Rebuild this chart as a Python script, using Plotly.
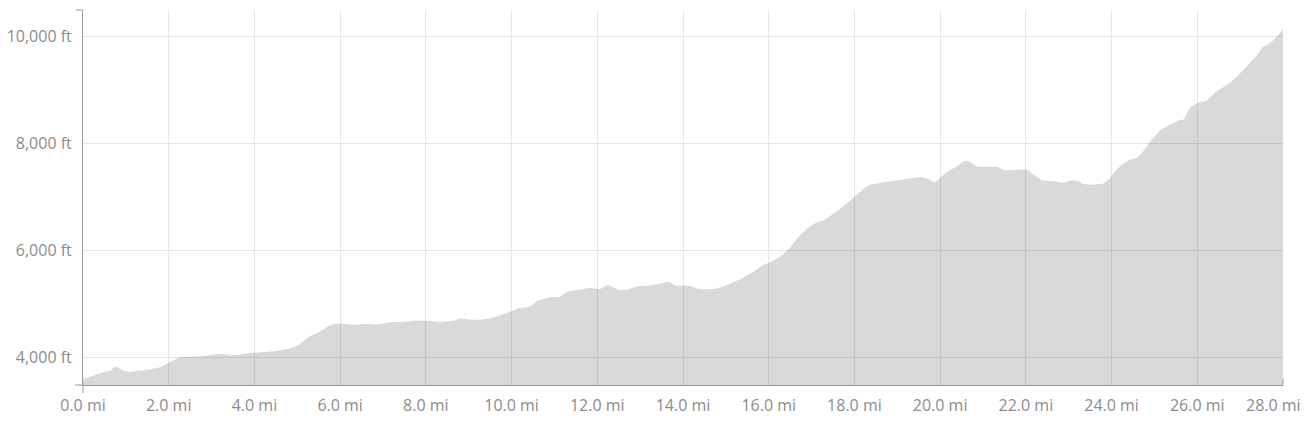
import plotly.graph_objects as go

# Distance along route (miles) and elevation (feet)
distance_mi = [
    0.0, 0.23, 0.39, 0.55, 0.66, 0.74, 0.82, 0.93, 1.09, 1.32, 1.60, 1.79, 1.98,
    2.26, 2.49, 2.72, 3.03, 3.27, 3.58, 3.81, 4.12, 4.51, 4.82, 5.06, 5.29, 5.53,
    5.76, 5.92, 6.15, 6.38, 6.62, 6.85, 7.16, 7.47, 7.74, 8.02, 8.33, 8.64, 8.83,
    9.03, 9.34, 9.57, 9.80, 10.04, 10.19, 10.43, 10.58, 10.74, 10.93, 11.09, 11.32,
    11.59, 11.83, 12.06, 12.25, 12.49, 12.68, 12.92, 13.23, 13.46, 13.66, 13.85,
    14.12, 14.39, 14.71, 14.94, 15.17, 15.41, 15.64, 15.84, 16.07, 16.30, 16.50,
    16.73, 16.92, 17.12, 17.27, 17.51, 17.74, 17.97, 18.21, 18.36, 18.60, 18.83,
    19.06, 19.22, 19.53, 19.69, 19.88, 20.04, 20.19, 20.39, 20.58, 20.70, 20.85,
    21.09, 21.32, 21.51, 21.79, 22.02, 22.18, 22.37, 22.64, 22.88, 23.07, 23.23,
    23.34, 23.58, 23.81, 23.97, 24.04, 24.24, 24.44, 24.59, 24.74, 24.94, 25.13,
    25.37, 25.56, 25.68, 25.83, 26.03, 26.22, 26.46, 26.73, 26.92, 27.16, 27.39,
    27.54, 27.66, 27.78, 27.97, 28.0,
]
elevation_ft = [
    3596, 3652, 3702, 3732, 3764, 3826, 3807, 3751, 3726, 3751, 3777, 3814, 3889,
    4001, 4007, 4013, 4050, 4063, 4039, 4076, 4095, 4119, 4166, 4245, 4387, 4481,
    4593, 4630, 4619, 4606, 4619, 4612, 4656, 4656, 4686, 4681, 4662, 4681, 4724,
    4700, 4705, 4737, 4806, 4873, 4918, 4948, 5042, 5087, 5124, 5117, 5229,
    5261, 5293, 5274, 5349, 5261, 5255, 5322, 5341, 5373, 5410, 5336,
    5341, 5274, 5274, 5322, 5397, 5491, 5592, 5710, 5790, 5897, 6052,
    6277, 6415, 6520, 6552, 6683, 6819, 6976, 7145, 7220, 7257, 7287,
    7306, 7332, 7369, 7338, 7268, 7381, 7474, 7568, 7669, 7650, 7568,
    7556, 7556, 7493, 7500, 7506, 7412, 7306, 7287, 7257, 7306, 7287,
    7238, 7225, 7244, 7351, 7431, 7600, 7693, 7725, 7848, 8067, 8236,
    8348, 8423, 8441, 8660, 8754, 8797, 8971, 9109, 9240, 9439, 9639,
    9802, 9845, 9925, 10094, 10130,
]

x_tick_vals = [0, 2, 4, 6, 8, 10, 12, 14, 16, 18, 20, 22, 24, 26, 28]
x_tick_text = [f"{v:.1f} mi" for v in x_tick_vals]
y_tick_vals = [4000, 6000, 8000, 10000]
y_tick_text = ["4,000 ft", "6,000 ft", "8,000 ft", "10,000 ft"]

AXIS = "#9a9a9a"
GRID = "#e6e6e6"
LABEL = "#8c8c8c"
FONT = "Open Sans"

# the last x label is drawn as an annotation so that it can sit inside the chart
last_label = x_tick_text[-1]
axis_tick_text = x_tick_text[:-1] + [""]

fig = go.Figure()
fig.add_trace(go.Scatter(
    x=distance_mi, y=elevation_ft,
    mode="lines", line=dict(width=0, color="rgba(0,0,0,0)"),
    fill="tozeroy", fillcolor="rgba(0,0,0,0.15)",
    line_shape="spline", line_smoothing=0.4,
    hoverinfo="skip", showlegend=False,
))

fig.update_layout(
    width=1307, height=422,
    margin=dict(l=83, r=24, t=10, b=37, autoexpand=False),
    paper_bgcolor="white", plot_bgcolor="white",
    font=dict(family=FONT, size=16, color=LABEL),
    showlegend=False,
    xaxis=dict(
        range=[0, 28.0], tickvals=x_tick_vals, ticktext=axis_tick_text,
        showgrid=True, gridcolor=GRID, gridwidth=1,
        showline=True, linecolor=AXIS, linewidth=1,
        ticks="", zeroline=False, ticklabelstandoff=6,
        automargin=False,
    ),
    yaxis=dict(
        range=[3482, 10486], tickvals=y_tick_vals, ticktext=y_tick_text,
        showgrid=True, gridcolor=GRID, gridwidth=1,
        showline=True, linecolor=AXIS, linewidth=1,
        ticks="", zeroline=False, ticklabelstandoff=7,
        automargin=False,
    ),
    annotations=[
        dict(text=last_label, x=x_tick_vals[-1], xref="x", y=0, yref="paper",
             xanchor="right", yanchor="top", xshift=20, yshift=-7,
             showarrow=False, font=dict(family=FONT, size=16, color=LABEL)),
    ],
    shapes=[
        # outer tick at top of y-axis
        dict(type="line", xref="paper", yref="paper", xsizemode="pixel", xanchor=0,
             x0=-7, x1=0, y0=1, y1=1, line=dict(color=AXIS, width=1)),
        # outer tick at bottom-left (x-axis extension)
        dict(type="line", xref="paper", yref="paper", xsizemode="pixel", xanchor=0,
             x0=-8, x1=0, y0=0, y1=0, line=dict(color=AXIS, width=1)),
        # y-axis extension below x-axis
        dict(type="line", xref="paper", yref="paper", ysizemode="pixel", yanchor=0,
             x0=0, x1=0, y0=-8, y1=0, line=dict(color=AXIS, width=1)),
        # outer tick at right end of x-axis
        dict(type="line", xref="paper", yref="paper", ysizemode="pixel", yanchor=0,
             x0=1, x1=1, y0=0, y1=6, line=dict(color=AXIS, width=1)),
    ],
)

fig.write_html(
    "out.html",
    config={"displayModeBar": False},
    post_script="document.body.style.margin='0';document.body.style.overflow='hidden';",
)
